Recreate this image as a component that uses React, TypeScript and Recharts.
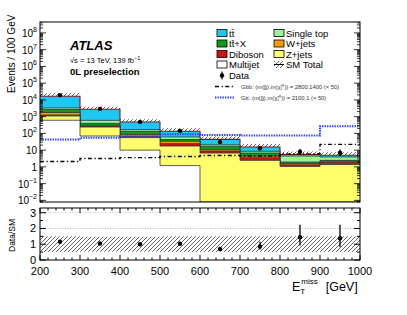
import React from "react"
import {
  ComposedChart,
  Area,
  Line,
  Scatter,
  ErrorBar,
  XAxis,
  YAxis,
  ReferenceLine,
} from "recharts"

// bin edges / centres in GeV
const binEdges = [200, 300, 400, 500, 600, 700, 800, 900, 1000]
const binCenters = [250, 350, 450, 550, 650, 750, 850, 950]

// backgrounds, stacked bottom -> top
const multijet = [610, 70, 10, 1.2, 0, 0, 0, 0]
const zjets = [490, 170, 46, 16.4, 6.7, 2.45, 1.07, 1.4]
const diboson = [160, 20, 10, 6.9, 2.1, 1.05, 0.25, 0.45]
const wjets = [510, 40, 20, 9.5, 1.9, 0.9, 0.3, 0.3]
const ttbarX = [880, 100, 48, 9, 6.3, 2.3, 0.32, 0.3]
const singleTop = [650, 200, 36, 18, 4, 1.8, 2.5, 1.45]
const ttbar = [13300, 2160, 310, 73, 23, 6.9, 1.0, 1.1]

// signals (x50)
const gbb = [2.1, 3.2, 3.6, 4.2, 4.8, 4.5, 6.0, 22]
const gtt = [43, 55, 68, 88, 80, 76, 76, 270]

// data
const dataCounts = [19200, 2900, 478, 138, 31, 13, 8, 7]
const dataErrLo = [140, 54, 22, 12, 5.5, 3.5, 2.8, 2.6]
const dataErrHi = [140, 54, 22, 12, 6.6, 4.7, 3.9, 3.8]

// lower panel
const ratio = [1.16, 1.05, 1.0, 1.03, 0.7, 0.86, 1.44, 1.38]
const ratioErrLo = [0.01, 0.02, 0.05, 0.09, 0.12, 0.2, 0.52, 0.55]
const ratioErrHi = [0.01, 0.02, 0.05, 0.09, 0.14, 0.3, 0.8, 0.85]
const sysUnc = [0.5, 0.48, 0.48, 0.5, 0.5, 0.5, 0.5, 0.5]

const yMin = 0.008
const yMax = 4.5e8
const LEFT = 40
const RIGHT = 360
const MAIN_TOP = 22
const MAIN_BOTTOM = 202
const RATIO_TOP = 208
const RATIO_BOTTOM = 260
const FONT = "'Liberation Sans', Arial, Helvetica, sans-serif"

const layers = [multijet, zjets, diboson, wjets, ttbarX, singleTop, ttbar]
const layerColors = ["#ffffff", "#ffff6e", "#cc1414", "#ff9a10", "#109a1c", "#9ef29e", "#20c6f2"]

const stepRows = binEdges.map((edge, i) => {
  const j = Math.min(i, binCenters.length - 1)
  const row: any = { x: edge }
  let cum = 0
  layers.forEach((l, k) => {
    cum += l[j]
    row["c" + k] = Math.max(cum, yMin)
  })
  row.band = [cum, cum * (1 + sysUnc[j])]
  row.rband = [1 - sysUnc[j], 1 + sysUnc[j]]
  row.gbb = gbb[j]
  row.gtt = gtt[j]
  return row
})

const dataPoints = binCenters.map((x, i) => ({
  x,
  y: dataCounts[i],
  err: [dataErrLo[i], dataErrHi[i]],
}))
const ratioPoints = binCenters.map((x, i) => ({
  x,
  y: ratio[i],
  err: [ratioErrLo[i], ratioErrHi[i]],
}))

const xTicks: number[] = []
for (let v = 200; v <= 1000; v += 20) xTicks.push(v)

const mainYTicks: number[] = []
for (let k = -3; k <= 8; k++) {
  for (let m = 1; m <= 9; m++) {
    const v = m * Math.pow(10, k)
    if (v >= yMin && v <= yMax) mainYTicks.push(v)
  }
}
const ratioYTicks = [0, 0.5, 1, 1.5, 2, 2.5, 3]

const MainXTick = (props: any) => {
  const { x, payload } = props
  const major = payload.value % 100 === 0
  const len = major ? 6 : 3
  return (
    <g>
      <line x1={x} x2={x} y1={MAIN_BOTTOM} y2={MAIN_BOTTOM - len} stroke="#000" />
      <line x1={x} x2={x} y1={MAIN_TOP} y2={MAIN_TOP + len} stroke="#000" />
    </g>
  )
}

const RatioXTick = (props: any) => {
  const { x, payload } = props
  const major = payload.value % 100 === 0
  const len = major ? 5 : 2.5
  return (
    <g>
      <line x1={x} x2={x} y1={RATIO_BOTTOM} y2={RATIO_BOTTOM - len} stroke="#000" />
      <line x1={x} x2={x} y1={RATIO_TOP} y2={RATIO_TOP + len} stroke="#000" />
      {major && (
        <text x={x} y={RATIO_BOTTOM + 15} textAnchor="middle" fontSize={11} fontFamily={FONT} fill="#000">
          {payload.value}
        </text>
      )}
    </g>
  )
}

const MainYTick = (props: any) => {
  const { y, payload } = props
  const lg = Math.log10(payload.value)
  const k = Math.round(lg)
  const major = Math.abs(lg - k) < 1e-6
  const len = major ? 6 : 3
  return (
    <g>
      <line x1={LEFT} x2={LEFT + len} y1={y} y2={y} stroke="#000" strokeWidth={0.8} />
      <line x1={RIGHT - len} x2={RIGHT} y1={y} y2={y} stroke="#000" strokeWidth={0.8} />
      {major && (
        <text x={37} y={y + 4} textAnchor="end" fontSize={10} fontFamily={FONT} fill="#000">
          {k === 0 ? "1" : "10"}
          {k !== 0 && k !== 1 && (
            <tspan dy={-5} fontSize={7}>
              {k < 0 ? "\u2212" + Math.abs(k) : k}
            </tspan>
          )}
        </text>
      )}
    </g>
  )
}

const RatioYTick = (props: any) => {
  const { y, payload } = props
  const major = Number.isInteger(payload.value)
  const len = major ? 6 : 3
  return (
    <g>
      <line x1={LEFT} x2={LEFT + len} y1={y} y2={y} stroke="#000" />
      <line x1={RIGHT - len} x2={RIGHT} y1={y} y2={y} stroke="#000" />
      {major && (
        <text x={36} y={y + 4} textAnchor="end" fontSize={11} fontFamily={FONT} fill="#000">
          {payload.value}
        </text>
      )}
    </g>
  )
}

const Dot = (p: any) => <circle cx={p.cx} cy={p.cy} r={2.2} fill="#000" />

const legendLeft = [
  { label: "tt\u0304", color: layerColors[6] },
  { label: "tt\u0304+X", color: layerColors[4] },
  { label: "Diboson", color: layerColors[2] },
  { label: "Multijet", color: layerColors[0] },
]
const legendRight = [
  { label: "Single top", color: layerColors[5] },
  { label: "W+jets", color: layerColors[3] },
  { label: "Z+jets", color: layerColors[1] },
]
const legendRows = [33, 43.5, 54, 64.5, 75.5]

export default function App() {
  return (
    <div style={{ position: "absolute", left: 0, top: 0, width: 407, height: 315, background: "#fff" }}>
      <svg width={0} height={0} style={{ position: "absolute" }}>
        <defs>
          <pattern id="hatch" patternUnits="userSpaceOnUse" width={4} height={4}>
            <path d="M-1,1 l2,-2 M0,4 l4,-4 M3,5 l2,-2" stroke="#222" strokeWidth={0.7} />
          </pattern>
        </defs>
      </svg>

      <div style={{ position: "absolute", left: 0, top: 0 }}>
        <ComposedChart
          width={407}
          height={214}
          data={stepRows}
          margin={{ top: 22, right: 47, bottom: 12, left: 0 }}
        >
          <XAxis
            type="number"
            dataKey="x"
            domain={[200, 1000]}
            ticks={xTicks}
            interval={0}
            height={0}
            allowDataOverflow
            axisLine={false}
            tickLine={false}
            tick={(p: any) => <MainXTick {...p} />}
          />
          <YAxis
            type="number"
            scale="log"
            domain={[yMin, yMax]}
            ticks={mainYTicks}
            interval={0}
            width={40}
            allowDataOverflow
            axisLine={false}
            tickLine={false}
            tick={(p: any) => <MainYTick {...p} />}
          />
          {[6, 5, 4, 3, 2, 1, 0].map((k) => (
            <Area
              key={k}
              type="stepAfter"
              dataKey={"c" + k}
              baseValue={yMin}
              fill={layerColors[k]}
              fillOpacity={1}
              stroke={k === 6 ? "#6e2020" : "#333"}
              strokeWidth={k === 6 ? 1.1 : 0.8}
              dot={false}
              activeDot={false}
              isAnimationActive={false}
            />
          ))}
          <Area
            type="stepAfter"
            dataKey="band"
            fill="url(#hatch)"
            fillOpacity={1}
            stroke="none"
            dot={false}
            activeDot={false}
            isAnimationActive={false}
          />
          <Line
            type="stepAfter"
            dataKey="gbb"
            stroke="#000"
            strokeWidth={1.4}
            strokeDasharray="4 2.5 1.2 2.5"
            dot={false}
            activeDot={false}
            isAnimationActive={false}
          />
          <Line
            type="stepAfter"
            dataKey="gtt"
            stroke="#2a3cff"
            strokeWidth={2}
            strokeDasharray="1.4 1.1"
            dot={false}
            activeDot={false}
            isAnimationActive={false}
          />
          <Scatter data={dataPoints} dataKey="y" shape={Dot} isAnimationActive={false}>
            <ErrorBar dataKey="err" direction="y" width={0} stroke="#000" strokeWidth={1.2} isAnimationActive={false} />
          </Scatter>
        </ComposedChart>
      </div>

      <div style={{ position: "absolute", left: 0, top: 0 }}>
        <ComposedChart
          width={407}
          height={315}
          data={stepRows}
          margin={{ top: RATIO_TOP, right: 47, bottom: 25, left: 0 }}
        >
          <XAxis
            type="number"
            dataKey="x"
            domain={[200, 1000]}
            ticks={xTicks}
            interval={0}
            height={30}
            allowDataOverflow
            axisLine={false}
            tickLine={false}
            tick={(p: any) => <RatioXTick {...p} />}
          />
          <YAxis
            type="number"
            domain={[0, 3.3]}
            ticks={ratioYTicks}
            interval={0}
            width={40}
            allowDataOverflow
            axisLine={false}
            tickLine={false}
            tick={(p: any) => <RatioYTick {...p} />}
          />
          <ReferenceLine y={2} stroke="#bbb" strokeDasharray="1 1.5" />
          <ReferenceLine y={3} stroke="#bbb" strokeDasharray="1 1.5" />
          <Area
            type="stepAfter"
            dataKey="rband"
            fill="url(#hatch)"
            fillOpacity={1}
            stroke="none"
            dot={false}
            activeDot={false}
            isAnimationActive={false}
          />
          <Scatter data={ratioPoints} dataKey="y" shape={Dot} isAnimationActive={false}>
            <ErrorBar dataKey="err" direction="y" width={0} stroke="#000" strokeWidth={1.3} isAnimationActive={false} />
          </Scatter>
        </ComposedChart>
      </div>

      <svg
        width={407}
        height={315}
        style={{ position: "absolute", left: 0, top: 0, pointerEvents: "none" }}
        fontFamily={FONT}
      >
        <rect x={LEFT} y={MAIN_TOP} width={RIGHT - LEFT} height={MAIN_BOTTOM - MAIN_TOP} fill="none" stroke="#000" />
        <rect x={LEFT} y={RATIO_TOP} width={RIGHT - LEFT} height={RATIO_BOTTOM - RATIO_TOP} fill="none" stroke="#000" />

        <text x={70} y={50} fontSize={13} fontWeight="bold" fontStyle="italic">ATLAS</text>
        <text x={70} y={63} fontSize={7.5}>
          {"\u221As = 13 TeV, 139 fb"}
          <tspan dy={-3} fontSize={5.5}>{"\u22121"}</tspan>
        </text>
        <text x={70} y={75} fontSize={9.5} fontWeight="bold">0L preselection</text>

        {legendLeft.map((e, i) => (
          <g key={e.label}>
            <rect x={217} y={legendRows[i] - 3.5} width={10} height={7} fill={e.color} stroke="#000" strokeWidth={0.8} />
            <text x={229} y={legendRows[i] + 3.5} fontSize={9.5}>{e.label}</text>
          </g>
        ))}
        <circle cx={222} cy={legendRows[4]} r={2.2} fill="#000" />
        <line x1={222} x2={222} y1={legendRows[4] - 4} y2={legendRows[4] + 4} stroke="#000" strokeWidth={1.2} />
        <text x={229} y={legendRows[4] + 3.5} fontSize={9.5}>Data</text>
        {legendRight.map((e, i) => (
          <g key={e.label}>
            <rect x={274} y={legendRows[i] - 3.5} width={10} height={7} fill={e.color} stroke="#000" strokeWidth={0.8} />
            <text x={286} y={legendRows[i] + 3.5} fontSize={9.5}>{e.label}</text>
          </g>
        ))}
        <rect x={274} y={legendRows[3] - 3.5} width={10} height={7} fill="url(#hatch)" />
        <line x1={274} x2={284} y1={legendRows[3]} y2={legendRows[3]} stroke="#000" strokeWidth={1} />
        <text x={286} y={legendRows[3] + 3.5} fontSize={9.5}>SM Total</text>

        <line x1={215} x2={235} y1={86.5} y2={86.5} stroke="#000" strokeWidth={1.4} strokeDasharray="4 2.5 1.2 2.5" />
        <text x={241} y={88.5} fontSize={5.8} fill="#333">
          {"Gbb: (m(g\u0303),m(\u03c7\u0303\u2081\u2070)) = 2800,1400 (\u00d7 50)"}
        </text>
        <line x1={215} x2={235} y1={97.5} y2={97.5} stroke="#2a3cff" strokeWidth={2} strokeDasharray="1.4 1.1" />
        <text x={241} y={99.5} fontSize={5.8} fill="#333">
          {"Gtt: (m(g\u0303),m(\u03c7\u0303\u2081\u2070)) = 2100,1 (\u00d7 50)"}
        </text>

        <text transform="translate(15,93) rotate(-90)" fontSize={10}>Events / 100 GeV</text>
        <text transform="translate(15,252) rotate(-90)" fontSize={8.5}>Data/SM</text>

        <text x={292} y={291} fontSize={12.5}>
          E
          <tspan dy={3} fontSize={8}>T</tspan>
          <tspan dx={-4} dy={-10} fontSize={8}>miss</tspan>
          <tspan dx={8} dy={7}>[GeV]</tspan>
        </text>
      </svg>
    </div>
  )
}
